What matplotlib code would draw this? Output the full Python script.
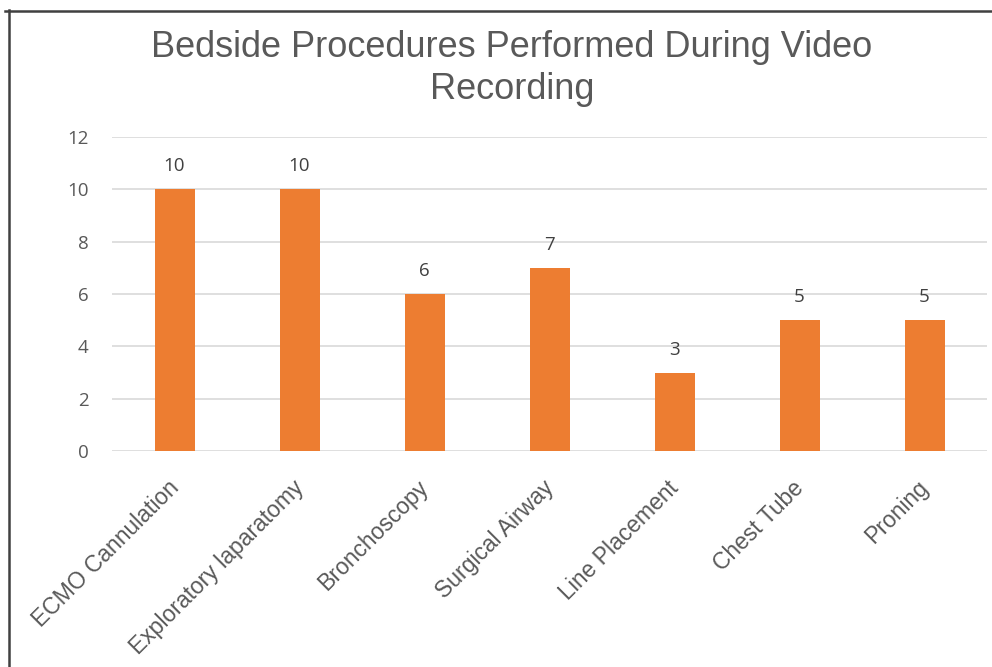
import matplotlib
matplotlib.use("Agg")
import matplotlib.pyplot as plt
from matplotlib.lines import Line2D
from matplotlib.transforms import blended_transform_factory, ScaledTranslation

categories = ["ECMO Cannulation", "Exploratory laparatomy", "Bronchoscopy",
              "Surgical Airway", "Line Placement", "Chest Tube", "Proning"]
counts = [10, 10, 6, 7, 3, 5, 5]
y_ticks = [0, 2, 4, 6, 8, 10, 12]
title = "Bedside Procedures Performed During Video\nRecording"

W, H, DPI = 992, 667, 100
fig = plt.figure(figsize=(W / DPI, H / DPI), dpi=DPI)
fig.patch.set_facecolor("white")

ax = fig.add_axes([112 / W, 1 - 451 / H, (987 - 112) / W, (451 - 137) / H])
x = list(range(len(categories)))
ax.bar(x, counts, width=0.32, color="#ED7D31", zorder=3)

ax.set_xlim(-0.5, len(categories) - 0.5)
ax.set_ylim(0, 12)
ax.set_yticks(y_ticks)
ax.set_yticklabels([str(v) for v in y_ticks], fontfamily="Open Sans",
                   fontsize=13.5, color="#595959")
ax.tick_params(axis="y", length=0, pad=17)
ax.set_xticks(x)
ax.set_xticklabels([])
ax.tick_params(axis="x", length=0)
for s in ax.spines.values():
    s.set_visible(False)
ax.grid(axis="y", color="#D9D9D9", linewidth=1.2, zorder=0)
ax.set_axisbelow(True)

# value labels above each bar
for xi, v in zip(x, counts):
    ax.annotate(str(v), (xi, v), xytext=(0, 16.5), textcoords="offset points",
                ha="center", va="center", fontfamily="Open Sans",
                fontsize=13.5, color="#404040")

# rotated category labels under the axis
trans = blended_transform_factory(ax.transData, ax.transAxes)
for xi, lab in zip(x, categories):
    off = ScaledTranslation(0.5 / 72, -24 / 72, fig.dpi_scale_trans)
    ax.text(xi, 0, lab, transform=trans + off, rotation=45,
            rotation_mode="anchor", ha="right", va="center",
            fontfamily="Liberation Sans", fontsize=16.5, color="#595959")

fig.text(512 / W, 1 - 30 / H, title, ha="center", va="top",
         fontfamily="Liberation Sans", fontsize=26, color="#595959",
         linespacing=1.27)

# frame edges along top and left
fig.add_artist(Line2D([5 / W, 1], [1 - 11 / H, 1 - 11 / H],
                      transform=fig.transFigure, color="#404040", linewidth=1.8))
fig.add_artist(Line2D([8.5 / W, 8.5 / W], [1 - 10 / H, 0],
                      transform=fig.transFigure, color="#404040", linewidth=1.8))

fig.savefig("out.png", dpi=DPI, facecolor="white")
